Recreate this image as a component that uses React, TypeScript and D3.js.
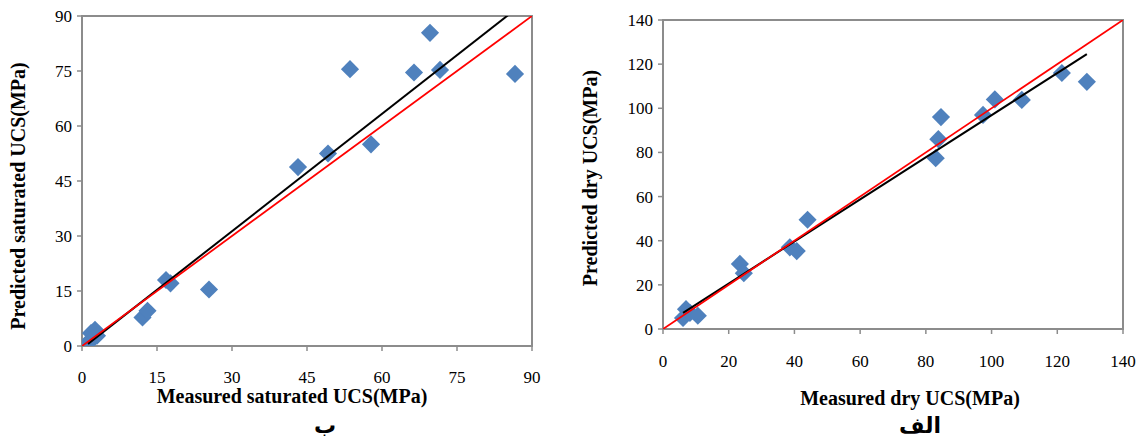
import React from 'react'
import * as d3 from 'd3'

// saturated (left, "ب")
const satMeasured = [1.2, 1.8, 2.6, 3.0, 2.2, 12.1, 13.1, 16.8, 17.7, 25.4, 43.2, 49.2, 57.8, 53.6, 66.4, 71.6, 69.6, 86.6]
const satPredicted = [1.0, 3.5, 4.4, 2.8, 2.0, 7.8, 9.6, 18.0, 17.1, 15.4, 48.8, 52.5, 55.0, 75.5, 74.6, 75.3, 85.4, 74.2]
const satTicks = [0, 15, 30, 45, 60, 75, 90]
const satFit = { slope: 1.067, intercept: -0.7 }

// dry (right, "الف")
const dryMeasured = [6.1, 7.0, 8.2, 10.6, 23.4, 24.6, 38.6, 40.7, 44.0, 83.0, 83.8, 84.6, 97.4, 101.0, 109.2, 121.4, 129.0]
const dryPredicted = [5.0, 9.0, 7.3, 6.0, 29.5, 25.3, 37.0, 35.3, 49.5, 77.4, 86.0, 96.0, 97.0, 104.0, 103.8, 116.0, 112.0]
const dryTicks = [0, 20, 40, 60, 80, 100, 120, 140]
const dryFit = { slope: 0.954, intercept: 1.5 }

const AXIS = '#8c8c8c'
const BLUE = '#4f81bd'
const SERIF = '"Liberation Serif", "Times New Roman", serif'

type PanelProps = {
  id: string
  left: number; top: number; width: number; height: number
  max: number
  ticks: number[]
  xs: number[]; ys: number[]
  fit: { slope: number; intercept: number }
  xLabelY: number
  xTitle: string; yTitle: string
  xTitleX: number; xTitleY: number
  yTitleX: number; yTitleY: number
  tag: string; tagX: number; tagY: number
}

const Panel = (p: PanelProps) => {
  const x = d3.scaleLinear().domain([0, p.max]).range([p.left, p.left + p.width])
  const y = d3.scaleLinear().domain([0, p.max]).range([p.top + p.height, p.top])
  const bottom = p.top + p.height
  const diamond = d3.symbol().type(d3.symbolSquare).size(165)()
  const line = d3.line<number>().x(v => x(v)).y(v => y(p.fit.slope * v + p.fit.intercept))
  const fitX = [d3.min(p.xs) as number, d3.max(p.xs) as number]
  const pts = p.xs.map((v, i) => [v, p.ys[i]])

  return (
    <g>
      <defs>
        <clipPath id={p.id}>
          <rect x={p.left} y={p.top} width={p.width} height={p.height} />
        </clipPath>
      </defs>
      <rect x={p.left} y={p.top} width={p.width} height={p.height} fill="none" stroke={AXIS} strokeWidth={2} />
      {p.ticks.map(t => (
        <g key={'y' + t}>
          <line x1={p.left - 5} x2={p.left} y1={y(t)} y2={y(t)} stroke={AXIS} strokeWidth={1.5} />
          <text x={p.left - 10} y={y(t)} dy="0.35em" textAnchor="end" fontSize={17} fontFamily={SERIF} fill="#000">{t}</text>
        </g>
      ))}
      {p.ticks.map(t => (
        <g key={'x' + t}>
          <line x1={x(t)} x2={x(t)} y1={bottom} y2={bottom + 5} stroke={AXIS} strokeWidth={1.5} />
          <text x={x(t)} y={p.xLabelY} textAnchor="middle" fontSize={17} fontFamily={SERIF} fill="#000">{t}</text>
        </g>
      ))}
      <g clipPath={`url(#${p.id})`}>
        {pts.map((d, i) => (
          <path key={i} d={diamond as string} transform={`translate(${x(d[0])},${y(d[1])}) rotate(45)`} fill={BLUE} />
        ))}
        <path d={line(fitX) as string} stroke="#000" strokeWidth={2} fill="none" />
        <line x1={x(0)} y1={y(0)} x2={x(p.max)} y2={y(p.max)} stroke="#ff0000" strokeWidth={1.8} />
      </g>
      <text x={p.xTitleX} y={p.xTitleY} textAnchor="middle" fontSize={20} fontWeight="bold" fontFamily={SERIF}>{p.xTitle}</text>
      <text transform={`translate(${p.yTitleX},${p.yTitleY}) rotate(-90)`} textAnchor="middle" dy="0.35em" fontSize={20} fontWeight="bold" fontFamily={SERIF}>{p.yTitle}</text>
      <text x={p.tagX} y={p.tagY} textAnchor="middle" fontSize={22} fontWeight="bold" fontFamily='"DejaVu Sans", sans-serif' direction="rtl">{p.tag}</text>
    </g>
  )
}

const App = () => (
  <svg width={1141} height={441} style={{ position: 'absolute', left: 0, top: 0, background: '#fff' }}>
    <Panel
      id="clipSat" left={82} top={16} width={450} height={330} max={90} ticks={satTicks}
      xs={satMeasured} ys={satPredicted} fit={satFit} xLabelY={383}
      xTitle="Measured saturated UCS(MPa)" yTitle="Predicted saturated UCS(MPa)"
      xTitleX={292} xTitleY={403} yTitleX={18} yTitleY={196}
      tag="ب" tagX={325} tagY={433}
    />
    <Panel
      id="clipDry" left={663} top={20} width={460} height={309} max={140} ticks={dryTicks}
      xs={dryMeasured} ys={dryPredicted} fit={dryFit} xLabelY={367}
      xTitle="Measured dry UCS(MPa)" yTitle="Predicted dry UCS(MPa)"
      xTitleX={910} xTitleY={405} yTitleX={590} yTitleY={178}
      tag="الف" tagX={920} tagY={433}
    />
  </svg>
)

export default App
